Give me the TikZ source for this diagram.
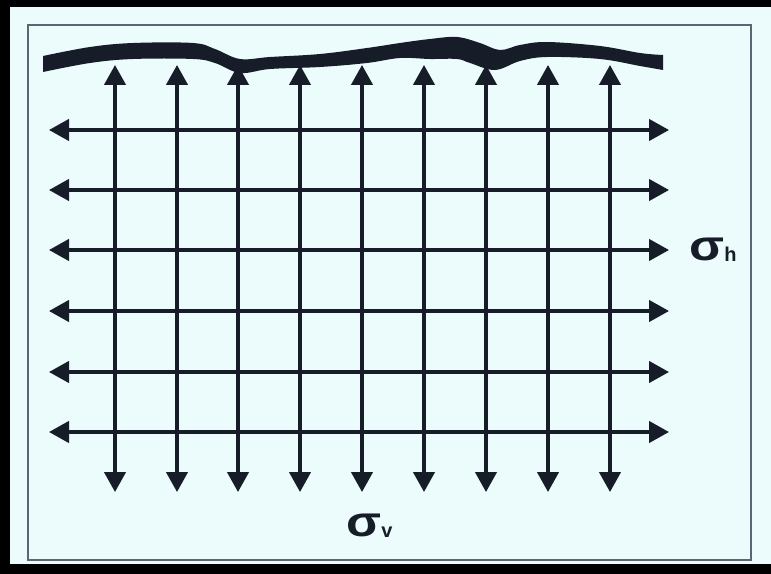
\documentclass[tikz,border=0pt]{standalone}
\usepackage{fontspec}
\setmainfont{Liberation Sans}
\usetikzlibrary{arrows.meta}

\definecolor{paper}{HTML}{ECFCFD}
\definecolor{ink}{HTML}{161C28}
\definecolor{frameline}{HTML}{5C6672}

\begin{document}
\begin{tikzpicture}[x=0.75pt, y=-0.75pt,
    bistress/.style={{Triangle[length=15pt,width=16pt]}-{Triangle[length=15pt,width=16pt]}, line width=2.5pt, ink},
    sigmalabel/.style={inner sep=0pt, text=ink, font=\bfseries\fontsize{32}{32}\selectfont}]
    \useasboundingbox (0,0) rectangle (771,574);

    % Frame and paper
    \fill[black] (0,0) rectangle (771,574);
    \fill[paper] (10,7) rectangle (771,564);
    \draw[frameline, line width=1.5pt] (28,25) rectangle (751,560);

    % Ground surface
    \fill[ink] plot[smooth, tension=0.6] coordinates {(43,56) (90,47) (133,43) (193,43) (215,49) (240,59) (270,57) (320,54) (367,48) (400,43) (430,39) (457,37) (480,43) (500,50) (520,45) (547,42) (600,46) (640,53) (663,55)}
        -- plot[smooth, tension=0.6] coordinates {(663,70) (640,66) (600,59) (547,57) (520,61) (495,70) (470,63) (457,59) (430,59) (400,58) (367,63) (320,67) (270,69) (240,73) (215,63) (193,59) (133,59) (90,63) (43,72)} -- cycle;

    % Horizontal stresses
    \draw[bistress] (49,130) -- (669,130);
    \draw[bistress] (49,190) -- (669,190);
    \draw[bistress] (49,250) -- (669,250) node[right=14pt, sigmalabel] (sh) {\scalebox{1.2}[1]{σ}\raisebox{-1pt}{\fontsize{15}{15}\selectfont h}};
    \draw[bistress] (49,311) -- (669,311);
    \draw[bistress] (49,372) -- (669,372);
    \draw[bistress] (49,432) -- (669,432);

    % Vertical stresses
    \draw[bistress] (115,65) -- (115,492);
    \draw[bistress] (177,65) -- (177,492);
    \draw[bistress] (238,65) -- (238,492);
    \draw[bistress] (300,65) -- (300,492);
    \draw[bistress] (362,65) -- (362,492);
    \draw[bistress] (424,65) -- (424,492);
    \draw[bistress] (486,65) -- (486,492);
    \draw[bistress] (548,65) -- (548,492);
    \draw[bistress] (610,65) -- (610,492);

    % Label
    \node[sigmalabel, anchor=west] (sv) at (346,526) {\scalebox{1.2}[1]{σ}\raisebox{-1pt}{\fontsize{15}{15}\selectfont v}};
\end{tikzpicture}
\end{document}
